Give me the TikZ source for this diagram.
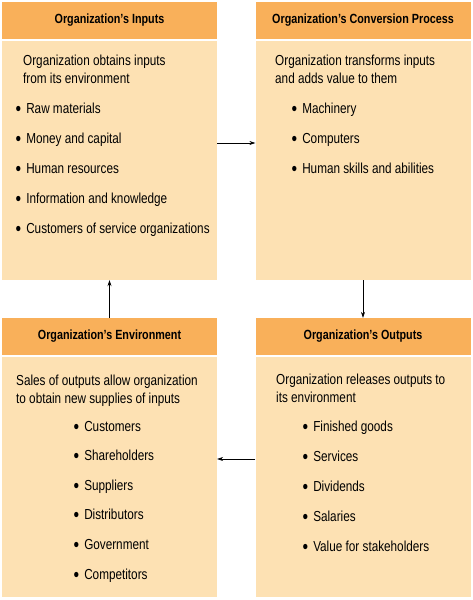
\documentclass[tikz,border=0pt]{standalone}
\usepackage{fontspec}
\setmainfont{Liberation Sans}[FakeStretch=0.81]
\usetikzlibrary{arrows.meta,positioning}
\definecolor{headorange}{HTML}{F9B05A}
\definecolor{bodycream}{HTML}{FDE1B3}
\newcommand{\blt}{\raisebox{-2pt}{\scalebox{1.35}{\textbullet}}\hspace{5pt}}

\begin{document}
\begin{tikzpicture}[x=1pt, y=-1pt,
        headbox/.style={fill=headorange, minimum width=215pt, minimum height=37pt, inner sep=0pt, font=\bfseries\fontsize{13.3}{15}\selectfont},
        bodybox/.style={fill=bodycream, minimum width=215pt, inner sep=0pt},
        intro/.style={anchor=base west, align=left, inner sep=0pt, font=\fontsize{14.5}{18}\selectfont},
        item/.style={anchor=base west, inner sep=0pt, font=\fontsize{14.5}{16}\selectfont},
        arr/.style={-{Stealth[length=6pt, width=4pt]}, semithick}
      ]
        \useasboundingbox (0,0) rectangle (473,600);
        % boxes
        \node[headbox] (inhead) at (109.5,20.5) {Organization’s Inputs};
        \node[bodybox, minimum height=239pt] (inbody) at (109.5,160.5) {};
        \node[headbox] (convhead) at (363,20.5) {Organization’s Conversion Process};
        \node[bodybox, minimum height=239pt] (convbody) at (363,160.5) {};
        \node[headbox] (envhead) at (109.5,336.5) {Organization’s Environment};
        \node[bodybox, minimum height=240pt] (envbody) at (109.5,477) {};
        \node[headbox] (outhead) at (363,336.5) {Organization’s Outputs};
        \node[bodybox, minimum height=240pt] (outbody) at (363,477) {};
        % texts
        \node[intro] (inintro) at (23,83) {Organization obtains inputs\\from its environment};
        \foreach \txt [count=\i] in {Raw materials, Money and capital, Human resources, Information and knowledge, Customers of service organizations}
          \node[item] (initem\i) at (15.5,83+30*\i) {\blt\txt};
        \node[intro] (convintro) at (275,83) {Organization transforms inputs\\and adds value to them};
        \foreach \txt [count=\i] in {Machinery, Computers, Human skills and abilities}
          \node[item] (convitem\i) at (291.5,83+30*\i) {\blt\txt};
        \node[intro] (envintro) at (16,403) {Sales of outputs allow organization\\to obtain new supplies of inputs};
        \foreach \txt [count=\i] in {Customers, Shareholders, Suppliers, Distributors, Government, Competitors}
          \node[item] (envitem\i) at (73.5,401.4+29.6*\i) {\blt\txt};
        \node[intro] (outintro) at (276,402) {Organization releases outputs to\\its environment};
        \foreach \txt [count=\i] in {Finished goods, Services, Dividends, Salaries, Value for stakeholders}
          \node[item] (outitem\i) at (302.5,401+30*\i) {\blt\txt};
        % arrows
        \coordinate (inarr) at (inbody.east |- 0,143);
        \coordinate (outarr) at (outbody.west |- 0,459);
        \draw[arr] (inarr) -- (inarr -| convbody.west);
        \draw[arr] (convbody) -- (outhead);
        \draw[arr] (outarr) -- (outarr -| envbody.east);
        \draw[arr] (envhead) -- (inbody);
      \end{tikzpicture}
\end{document}
